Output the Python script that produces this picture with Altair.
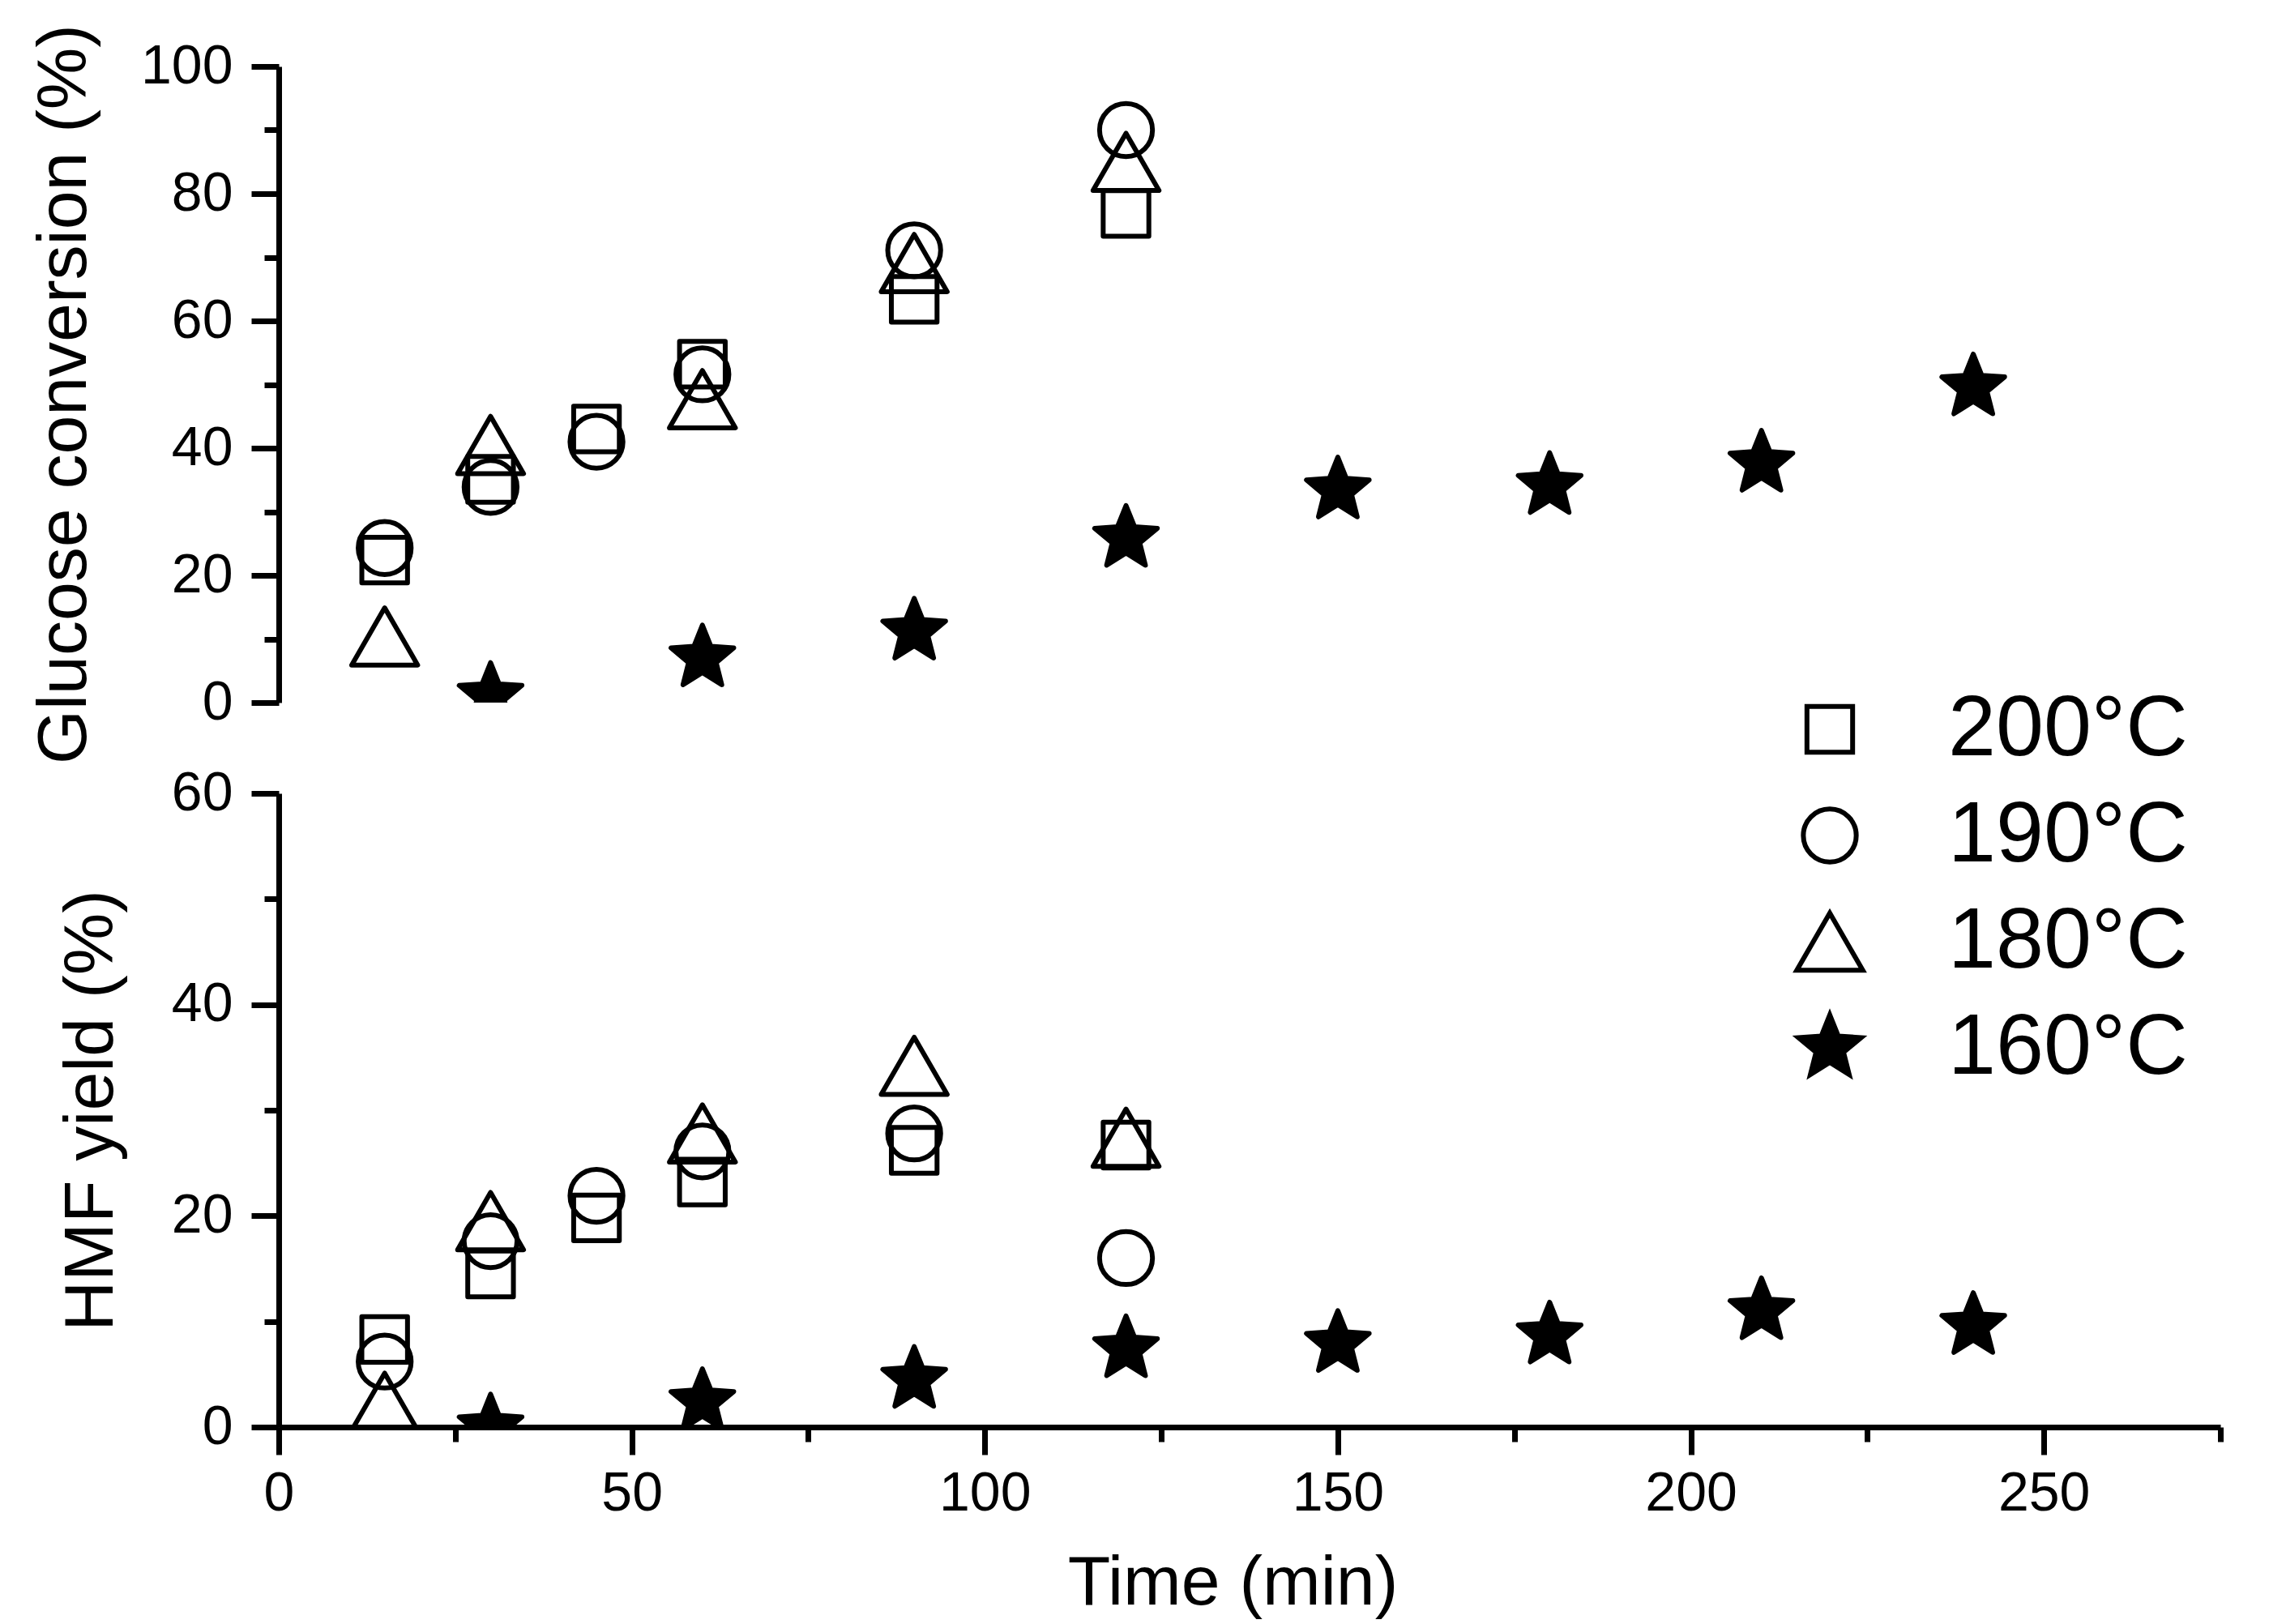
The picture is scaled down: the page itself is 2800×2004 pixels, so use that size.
import math

import altair as alt
import pandas as pd

# values
temps = ['200°C', '190°C', '180°C', '160°C']

t_200 = [15, 30, 45, 60, 90, 120]
gluc_200 = [22.4, 35.1, 43.0, 53.2, 63.4, 76.9]
hmf_200 = [8.3, 14.5, 19.8, 23.2, 26.2, 26.7]

t_190 = [15, 30, 45, 60, 90, 120]
gluc_190 = [24.3, 33.9, 41.0, 51.6, 71.1, 90.0]
hmf_190 = [6.2, 17.6, 21.9, 26.1, 27.8, 16.0]

t_180 = [15, 30, 60, 90, 120]
gluc_180 = [10.4, 40.5, 47.7, 69.1, 85.0]
hmf_180 = [2.4, 19.5, 27.8, 34.2, 27.4]

t_160 = [30, 60, 90, 120, 150, 180, 210, 240]
gluc_160 = [1.1, 7.0, 11.2, 25.8, 33.4, 34.1, 37.6, 49.6]
hmf_160 = [0.0, 2.4, 4.5, 7.4, 7.9, 8.7, 11.0, 9.6]

x_ticks = [0, 25, 50, 75, 100, 125, 150, 175, 200, 225, 250, 275]
gluc_ticks = [0, 10, 20, 30, 40, 50, 60, 70, 80, 90, 100]
hmf_ticks = [0, 10, 20, 30, 40, 50, 60]

series = [
    ('200°C', t_200, gluc_200, hmf_200),
    ('190°C', t_190, gluc_190, hmf_190),
    ('180°C', t_180, gluc_180, hmf_180),
    ('160°C', t_160, gluc_160, hmf_160),
]
rows = []
for name, ts, gs, hs in series:
    for t, g, h in zip(ts, gs, hs):
        rows.append({'temp': name, 'time': t, 'glucose': g, 'hmf': h})
df = pd.DataFrame(rows)


def star_path(r_out, r_in):
    pts = []
    for k in range(10):
        ang = math.radians(-90 + 36 * k)
        r = r_out if k % 2 == 0 else r_in
        pts.append(f"{r * math.cos(ang):.3f},{r * math.sin(ang):.3f}")
    return "M" + "L".join(pts) + "Z"


square = "M-0.63,-0.63L0.63,-0.63L0.63,0.63L-0.63,0.63Z"
circle = "M0.73,0A0.73,0.73,0,1,1,-0.73,0A0.73,0.73,0,1,1,0.73,0Z"
triangle = "M0,-0.79L0.91,0.79L-0.91,0.79Z"
star = star_path(0.91, 0.40)

FONT = 'Liberation Sans'
LW = 6
AXW = 7
SIZE = 8000

legend = alt.Legend(orient='none', legendX=1861, legendY=765, title=None,
                    labelFont=FONT, labelFontSize=106, labelColor='black', labelLimit=0,
                    labelOffset=93, symbolSize=SIZE, symbolStrokeWidth=LW,
                    rowPadding=25, padding=0)

shape = alt.Shape('temp:N', scale=alt.Scale(domain=temps, range=[square, circle, triangle, star]),
                  legend=legend)
fill = alt.Fill('temp:N', scale=alt.Scale(domain=temps,
                                          range=['transparent', 'transparent', 'transparent', 'black']),
                legend=legend)
stroke = alt.Stroke('temp:N', scale=alt.Scale(domain=temps, range=['black', 'black', 'black', 'black']),
                    legend=legend)


def tick_axis(values, step, title, **kw):
    return alt.Axis(values=values, title=title, grid=False,
                    labelExpr=f"datum.value % {step} === 0 ? datum.label : ''",
                    tickSize={'condition': {'test': f"datum.value % {step} === 0", 'value': 34}, 'value': 18},
                    labelFlush=False, labelOverlap=False, **kw)


x_scale = alt.Scale(domain=[0, 275], nice=False, zero=False)

top = alt.Chart(df).mark_point(filled=True, strokeWidth=LW, strokeJoin='round',
                               size=SIZE, opacity=1, clip=True).encode(
    x=alt.X('time:Q', scale=x_scale, axis=None),
    y=alt.Y('glucose:Q', scale=alt.Scale(domain=[0, 100], nice=False),
            axis=tick_axis(gluc_ticks, 20, 'Glucose conversion (%)', labelPadding=23,
                           titlePadding=50, titleY=404)),
    shape=shape,
    fill=fill,
    stroke=stroke,
).properties(width=2396, height=785)

bottom = alt.Chart(df).mark_point(filled=True, strokeWidth=LW, strokeJoin='round',
                                  size=SIZE, opacity=1, clip=True).encode(
    x=alt.X('time:Q', scale=x_scale,
            axis=tick_axis(x_ticks, 50, 'Time (min)', labelPadding=14, titlePadding=34,
                           titleX=1177)),
    y=alt.Y('hmf:Q', scale=alt.Scale(domain=[0, 60], nice=False),
            axis=tick_axis(hmf_ticks, 20, 'HMF yield (%)', labelPadding=23, titlePadding=55)),
    shape=shape,
    fill=fill,
    stroke=stroke,
).properties(width=2396, height=782)

chart = alt.vconcat(top, bottom, spacing=112, bounds='flush').properties(
    padding={'left': 28, 'top': 21, 'right': 10, 'bottom': 10}
).configure_view(stroke=None).configure_axis(
    domainColor='black', domainWidth=AXW, tickColor='black', tickWidth=AXW,
    labelFont=FONT, labelFontSize=68, labelColor='black',
    titleFont=FONT, titleFontSize=86, titleColor='black', titleFontWeight='normal'
)

chart.save("out.html", embed_options={"renderer": "svg", "actions": False})
